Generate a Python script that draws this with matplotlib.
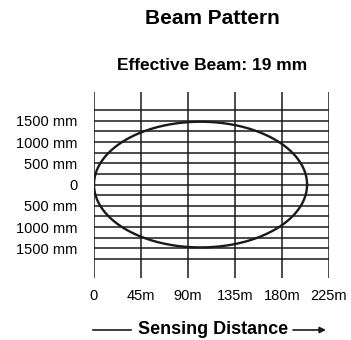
import numpy as np
import matplotlib
matplotlib.use("Agg")
import matplotlib.pyplot as plt

plt.rcParams['font.family'] = ['Liberation Sans', 'DejaVu Sans']

# axis values
x_ticks = [0, 45, 90, 135, 180, 225]
x_labels = ["0", "45m", "90m", "135m", "180m", "225m"]
y_ticks = [1500, 1000, 500, 0, -500, -1000, -1500]
y_labels = ["1500 mm", "1000 mm", "500 mm", "0", "500 mm", "1000 mm", "1500 mm"]
h_lines = [-1750, -1500, -1250, -1000, -750, -500, -250, 0,
           250, 500, 750, 1000, 1250, 1500, 1750]

# beam ellipse (center distance, half length, half width)
beam_center = 102
beam_half_len = 102
beam_half_width = 1480

fig = plt.figure(figsize=(3.51, 3.40), dpi=100)
ax = fig.add_axes([94 / 351, 62 / 340, 235 / 351, 186 / 340])

ax.set_xlim(0, 225)
ax.set_ylim(-2200, 2180)

for v in x_ticks:
    ax.axvline(v, color="#1a1a1a", lw=1.1, zorder=1)
for h in h_lines:
    ax.axhline(h, color="#1a1a1a", lw=1.1, zorder=1)

t = np.linspace(0, 2 * np.pi, 400)
ax.plot(beam_center + beam_half_len * np.cos(t),
        beam_half_width * np.sin(t), color="#1a1a1a", lw=1.7, zorder=2)

for s in ax.spines.values():
    s.set_visible(False)
ax.set_xticks(x_ticks)
ax.set_xticklabels(x_labels, fontsize=10.5)
ax.set_yticks(y_ticks)
ax.set_yticklabels(y_labels, fontsize=10.5)
ax.tick_params(length=0, pad=8)
ax.tick_params(axis="y", pad=12)

fig.text(212 / 351, 1 - 18 / 340, "Beam Pattern", ha="center", va="center",
         fontsize=15, fontweight="bold")
fig.text(212 / 351, 1 - 65 / 340, "Effective Beam: 19 mm", ha="center",
         va="center", fontsize=12.5, fontweight="bold")
fig.text(213 / 351, 1 - 330 / 340, "Sensing Distance", ha="center",
         va="center", fontsize=13, fontweight="bold")
fig.add_artist(plt.Line2D([93 / 351, 131 / 351], [10 / 340, 10 / 340],
                          color="#1a1a1a", lw=1.2))
ax.annotate("", xy=(326 / 351, 10 / 340), xytext=(293 / 351, 10 / 340),
            xycoords="figure fraction",
            arrowprops=dict(arrowstyle="-|>", color="#1a1a1a", lw=1.2,
                            mutation_scale=9, shrinkA=0, shrinkB=0))

fig.savefig("out.png", dpi=100)
